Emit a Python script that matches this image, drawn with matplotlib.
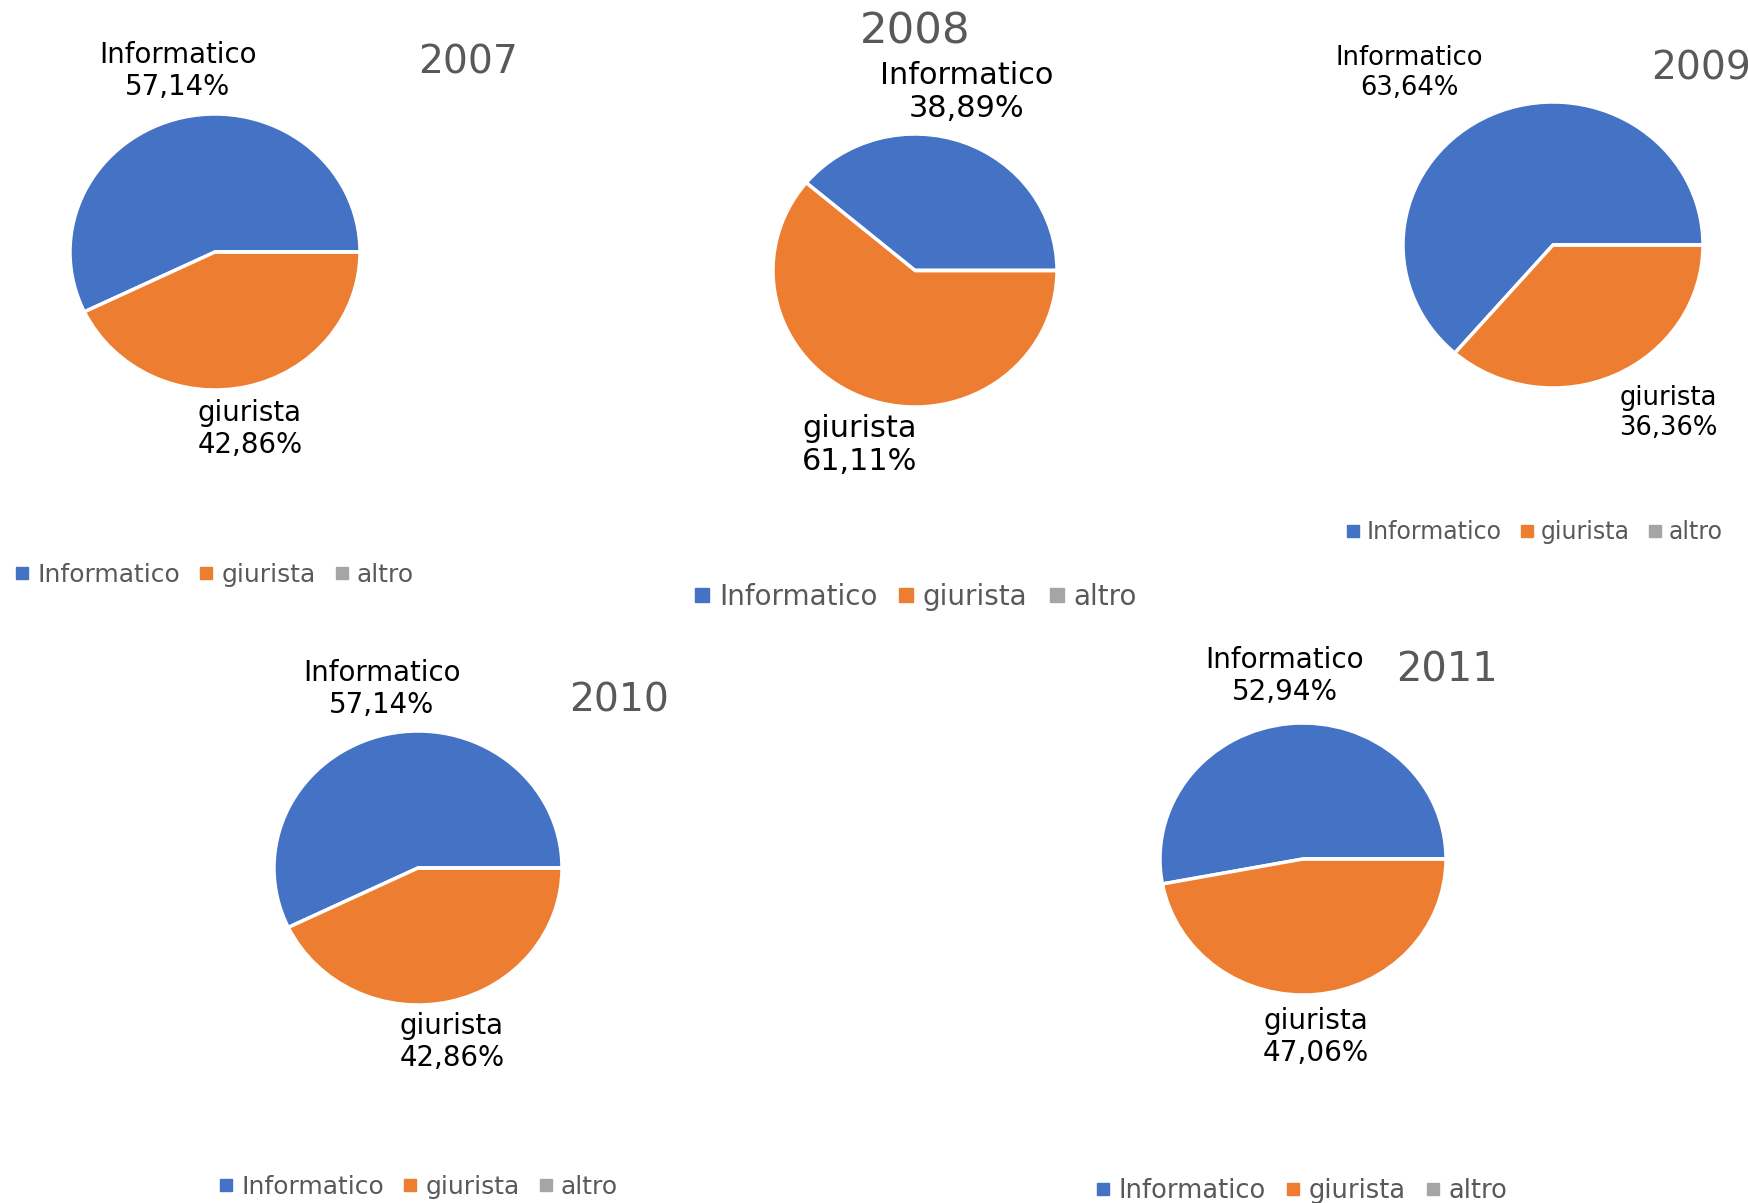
import matplotlib
matplotlib.use("Agg")
import matplotlib.pyplot as plt
from matplotlib.lines import Line2D

W, H = 1749, 1203

# dati
categories = ["Informatico", "giurista", "altro"]
colors = ["#4472C4", "#ED7D31", "#A5A5A5"]
years = ["2007", "2008", "2009", "2010", "2011"]
informatico = [57.14, 38.89, 63.64, 57.14, 52.94]
giurista = [42.86, 61.11, 36.36, 42.86, 47.06]
altro = [0, 0, 0, 0, 0]

# layout in pixel: riquadro torta, etichette, titolo, legenda, dimensioni font
pie_box = [(70, 114, 360, 390), (773, 134, 1057, 407), (1403, 102, 1703, 388),
           (274, 731, 562, 1005), (1160, 723, 1446, 995)]
inf_pos = [(178, 71), (967, 92), (1409, 73), (382, 689), (1285, 676)]
giu_pos = [(250, 429), (860, 445), (1668, 413), (452, 1042), (1316, 1037)]
title_pos = [(468, 62), (915, 32), (1701, 68), (619, 700), (1447, 670)]
legend_pos = [(215, 575), (916, 597), (1535, 532), (419, 1187), (1302, 1191)]
label_fs = [19.9, 21.9, 18.6, 19.9, 20.1]
title_fs = [28.3, 31.3, 28.3, 28.3, 28.8]
legend_fs = [18, 20, 17, 18, 18.5]


def fx(x):
    return x / W


def fy(y):
    return 1 - y / H


def pct(v):
    return f"{v:.2f}%".replace(".", ",")


fig = plt.figure(figsize=(W / 100, H / 100), dpi=100)

for i, year in enumerate(years):
    x0, y0, x1, y1 = pie_box[i]
    ax = fig.add_axes([fx(x0), fy(y1), (x1 - x0) / W, (y1 - y0) / H])
    vals = [informatico[i], giurista[i], altro[i]]
    ax.pie(vals, colors=colors, startangle=0, counterclock=True,
           wedgeprops=dict(edgecolor="white", linewidth=2.5))
    ax.set_aspect("auto")
    ax.set_xlim(-1.0, 1.0)
    ax.set_ylim(-1.0, 1.0)
    ax.axis("off")

    fig.text(fx(inf_pos[i][0]), fy(inf_pos[i][1]), "Informatico\n" + pct(informatico[i]),
             ha="center", va="center", fontsize=label_fs[i], linespacing=1.2, color="black")
    fig.text(fx(giu_pos[i][0]), fy(giu_pos[i][1]), "giurista\n" + pct(giurista[i]),
             ha="center", va="center", fontsize=label_fs[i], linespacing=1.2, color="black")
    fig.text(fx(title_pos[i][0]), fy(title_pos[i][1]), year,
             ha="center", va="center", fontsize=title_fs[i], color="#595959")

    handles = [Line2D([], [], marker="s", linestyle="none", markersize=legend_fs[i] * 0.5,
                      markerfacecolor=c, markeredgecolor=c) for c in colors]
    fig.legend(handles, categories, loc="center", bbox_to_anchor=(fx(legend_pos[i][0]), fy(legend_pos[i][1])),
               ncol=3, frameon=False, fontsize=legend_fs[i], labelcolor="#595959",
               handlelength=0.5, handletextpad=0.35, columnspacing=0.8, borderpad=0)

fig.savefig("out.png", dpi=100)
